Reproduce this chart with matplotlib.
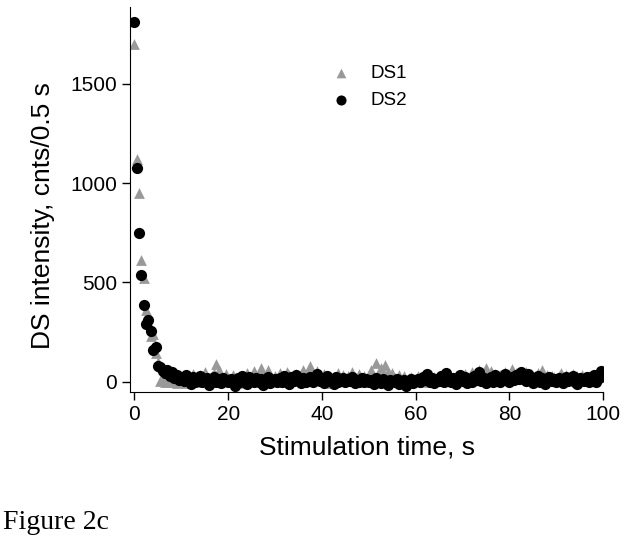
import matplotlib
matplotlib.use("Agg")
import matplotlib.pyplot as plt
import numpy as np

plt.rcParams['font.family'] = ['Liberation Sans', 'DejaVu Sans']

# sampling every 0.5 s
time_s = np.arange(0, 100, 0.5)

ds1 = [
    1700, 1120, 950, 615, 520, 360, 300, 230, 240, 145, 100, 5, 10, 0, -5, 20, 30, 0, -10, 10,
    15, 25, -10, 30, 10, 40, 20, -5, 35, 15, 50, 20, 10, 30, 45, 90, 60, 25, 10, 40,
    20, 5, 35, 15, -10, 25, 30, 10, 45, 20, 15, 55, 30, 10, 70, 40, 20, 60, 25, 15,
    30, 10, 45, 20, -5, 50, 35, 15, 25, 40, 10, 30, 60, 20, 45, 80, 35, 15, 55, 30,
    20, 40, 15, 30, -10, 25, 10, 45, 20, 35, 5, 30, 15, 50, 25, 10, 40, 20, 30, 15,
    35, 60, 20, 95, 40, 70, 25, 85, 50, 30, 45, 20, 10, 35, 15, 30, 5, 20, 25, 10,
    15, 30, 10, 25, -5, 20, 35, 10, 25, 15, 30, 5, 20, 40, 15, 25, 10, 30, 20, 35,
    25, 40, 15, 30, 50, 20, 35, 60, 25, 45, 70, 30, 55, 20, 40, 15, 35, 25, 50, 30,
    20, 65, 30, 45, 15, 35, 25, 50, 20, 40, 30, 15, 45, 25, 60, 20, 35, 10, 30, 25,
    15, 30, 45, 20, 35, 10, 25, 40, 15, 30, 20, 35, 10, 25, 30, 15, 20, 35, 25, 40,
]

ds2 = [
    1810, 1075, 750, 535, 385, 290, 310, 255, 160, 175, 80, 75, 55, 45, 60, 30, 50, 20, 35, 10,
    20, 5, 35, 10, -15, 25, 0, 15, 30, -5, 10, 20, -20, 5, 25, 0, 15, -10, 20, 5,
    -5, 15, 10, -25, 20, 0, 30, 5, -15, 25, 10, -5, 20, 0, 15, -20, 10, 25, -10, 5,
    15, -5, 20, 0, 30, 10, -15, 25, 5, 35, 15, -10, 20, 0, 10, 25, -5, 15, 40, 5,
    20, -10, 30, 5, 15, -15, 25, 0, 10, 20, -5, 15, 5, 25, -10, 10, 0, 20, -5, 15,
    0, 10, -15, 20, 5, -10, 15, 0, -20, 10, 5, -5, 15, -15, 0, 10, -25, 5, 15, -10,
    5, 15, -5, 25, 10, 40, 0, 20, -10, 15, 5, 30, -5, 45, 10, 0, 20, -15, 15, 35,
    5, 25, -10, 15, 0, 30, 10, 50, 5, 20, -10, 15, 25, 0, 35, 10, -5, 20, 40, 15,
    0, 25, 10, 35, 15, 50, 20, 5, 40, 25, -10, 15, 30, 0, 20, -15, 10, 25, 5, 15,
    -5, 20, 10, -10, 25, 5, 15, 30, 0, -15, 20, 10, 5, 25, -5, 15, 35, 0, 20, 55,
]

fig = plt.figure(figsize=(6.29, 5.48), dpi=100)
ax = fig.add_axes([0.207, 0.285, 0.752, 0.703])

ax.scatter(time_s, ds1, marker='^', s=60, color='#999999', linewidths=0, label='DS1')
ax.scatter(time_s, ds2, marker='o', s=65, color='black', linewidths=0, label='DS2')

ax.set_xlim(-0.9, 100)
ax.set_ylim(-52, 1890)
ax.set_xticks([0, 20, 40, 60, 80, 100])
ax.set_yticks([0, 500, 1000, 1500])
ax.spines['top'].set_visible(False)
ax.spines['right'].set_visible(False)
ax.tick_params(direction='out', length=6, width=1, labelsize=15)
ax.set_xlabel("Stimulation time, s", fontsize=19, labelpad=8)
ax.set_ylabel("DS intensity, cnts/0.5 s", fontsize=19)
ax.yaxis.set_label_coords(-0.158, 0.457)

ax.legend(loc='upper left', bbox_to_anchor=(0.37, 0.892), frameon=False,
          fontsize=13.5, markerscale=0.9, handletextpad=0.6, labelspacing=0.5)

fig.text(0.005, 0.035, "Figure 2c", fontsize=20, family='Liberation Serif')

fig.savefig("out.png", dpi=100)
